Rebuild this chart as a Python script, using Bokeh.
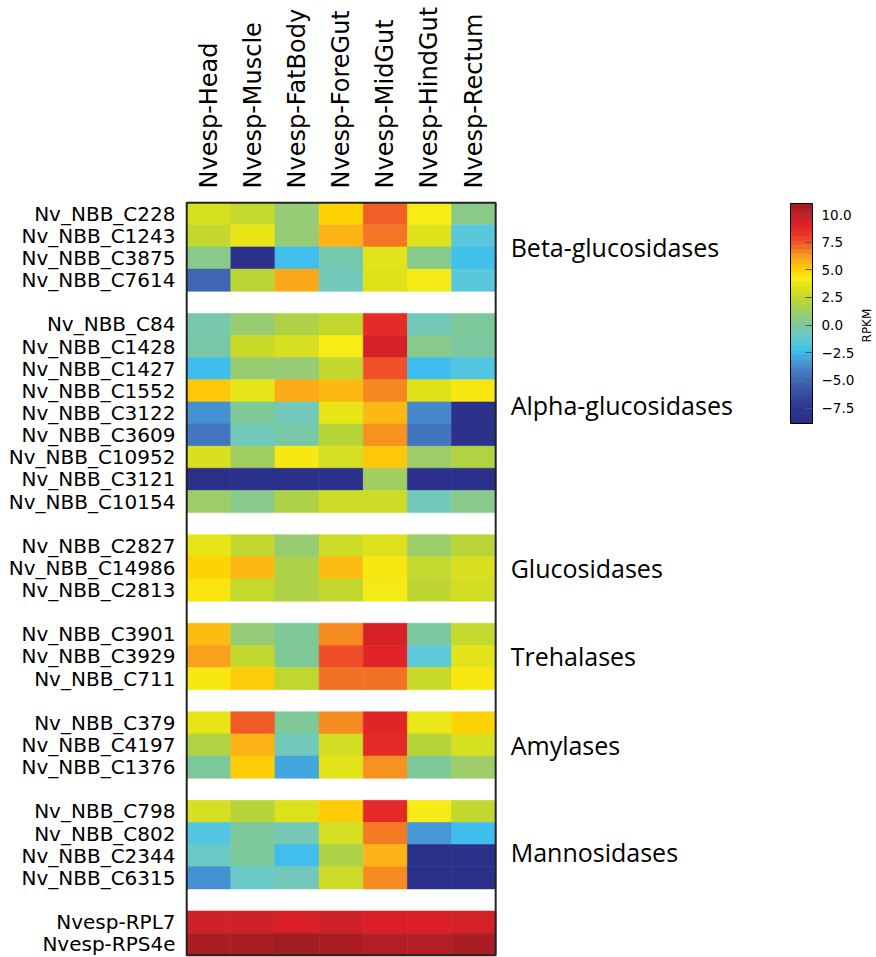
import math
import numpy as np
from bokeh.plotting import figure
from bokeh.models import (LinearColorMapper, ColorBar, FixedTicker, Range1d, LinearAxis,
                          ColumnDataSource, CustomJSTickFormatter)
from bokeh.core.properties import value
from bokeh.transform import transform
from bokeh.embed import file_html
from bokeh.resources import INLINE

# ---- data ------------------------------------------------------------------
tissues = ["Nvesp-Head", "Nvesp-Muscle", "Nvesp-FatBody", "Nvesp-ForeGut",
           "Nvesp-MidGut", "Nvesp-HindGut", "Nvesp-Rectum"]

beta_genes = ["Nv_NBB_C228", "Nv_NBB_C1243", "Nv_NBB_C3875", "Nv_NBB_C7614"]
beta_rpkm = [
    [3.2, 2.6, 0.9, 5.0, 7.4, 4.3, 0.5],
    [2.5, 3.8, 0.9, 5.8, 7.0, 3.5, -1.5],
    [0.4, -8.5, -2.4, -0.5, 3.6, 0.4, -2.3],
    [-5.2, 2.2, 6.1, -0.7, 3.5, 4.2, -1.5],
]

alpha_genes = ["Nv_NBB_C84", "Nv_NBB_C1428", "Nv_NBB_C1427", "Nv_NBB_C1552",
               "Nv_NBB_C3122", "Nv_NBB_C3609", "Nv_NBB_C10952", "Nv_NBB_C3121",
               "Nv_NBB_C10154"]
alpha_rpkm = [
    [-0.4, 1.0, 1.8, 2.5, 8.7, -0.7, 0.0],
    [-0.3, 2.7, 3.2, 4.3, 9.6, 0.4, -0.1],
    [-2.5, 1.0, 0.9, 2.5, 7.7, -2.5, -1.8],
    [5.3, 3.7, 6.0, 5.7, 6.7, 3.5, 4.4],
    [-3.6, 0.1, -0.7, 3.8, 5.7, -3.9, -8.5],
    [-4.5, -0.7, -0.3, 2.1, 6.5, -4.6, -8.5],
    [3.3, 1.3, 4.4, 3.1, 5.3, 1.2, 1.9],
    [-8.7, -8.7, -8.7, -8.7, 1.3, -8.7, -8.7],
    [1.2, 0.4, 1.8, 2.9, 2.9, -0.7, 0.4],
]

gluco_genes = ["Nv_NBB_C2827", "Nv_NBB_C14986", "Nv_NBB_C2813"]
gluco_rpkm = [
    [3.7, 2.5, 1.0, 2.9, 3.5, 1.2, 2.2],
    [5.0, 5.7, 1.8, 5.6, 4.4, 2.6, 3.3],
    [4.5, 2.6, 1.8, 2.5, 4.1, 2.3, 3.0],
]

treh_genes = ["Nv_NBB_C3901", "Nv_NBB_C3929", "Nv_NBB_C711"]
treh_rpkm = [
    [5.6, 0.9, 0.1, 6.6, 9.5, -0.1, 2.6],
    [6.2, 2.5, 0.1, 7.8, 9.1, -1.4, 3.6],
    [4.4, 5.2, 2.4, 7.1, 7.1, 2.7, 4.4],
]

amyl_genes = ["Nv_NBB_C379", "Nv_NBB_C4197", "Nv_NBB_C1376"]
amyl_rpkm = [
    [3.7, 7.5, 0.1, 6.6, 9.0, 3.9, 5.0],
    [1.9, 5.8, -0.7, 3.0, 8.7, 2.1, 3.2],
    [0.0, 5.1, -3.0, 3.6, 6.5, 0.1, 1.2],
]

manno_genes = ["Nv_NBB_C798", "Nv_NBB_C802", "Nv_NBB_C2344", "Nv_NBB_C6315"]
manno_rpkm = [
    [3.2, 2.1, 3.4, 5.1, 8.8, 4.2, 2.5],
    [-1.8, 0.0, -0.6, 3.1, 6.9, -3.4, -2.5],
    [-1.0, 0.0, -2.4, 1.8, 5.8, -8.6, -8.6],
    [-3.6, -1.0, -0.7, 2.8, 6.6, -8.6, -8.6],
]

control_genes = ["Nvesp-RPL7", "Nvesp-RPS4e"]
control_rpkm = [
    [9.8, 9.8, 9.3, 9.8, 9.3, 9.3, 9.6],
    [10.7, 10.7, 11.0, 10.7, 10.6, 10.5, 10.7],
]

group_names = ["Beta-glucosidases", "Alpha-glucosidases", "Glucosidases",
               "Trehalases", "Amylases", "Mannosidases", None]
group_genes = [beta_genes, alpha_genes, gluco_genes, treh_genes,
               amyl_genes, manno_genes, control_genes]
group_rpkm = [beta_rpkm, alpha_rpkm, gluco_rpkm, treh_rpkm,
              amyl_rpkm, manno_rpkm, control_rpkm]

cbar_ticks = [-7.5, -5.0, -2.5, 0.0, 2.5, 5.0, 7.5, 10.0]
cbar_title = "RPKM"
low, high = -8.9, 11.0

# ---- colour map (blue - cyan - green - yellow - red) --------------------------
anchor_vals = [-8.9, -7.5, -6.0, -4.5, -3.5, -2.5, -1.5, -0.8, 0.0, 1.0, 2.0, 2.5,
               3.5, 4.3, 5.0, 5.8, 6.5, 7.5, 8.5, 9.3, 10.0, 11.0]
anchor_cols = ["#2b2f8a", "#2d3790", "#3a55a4", "#4277bf", "#4694d3", "#3ebdee",
               "#5ac8dc", "#70c9bd", "#7dc89b", "#97cc72", "#b4d33c", "#c2d82e",
               "#dfe21a", "#f8ec15", "#fed304", "#fcb515", "#f79420", "#f15a27",
               "#e92f27", "#dc2026", "#c92128", "#a11d22"]


def build_palette(n):
    rgb = np.array([[int(c[i:i + 2], 16) for i in (1, 3, 5)] for c in anchor_cols], float)
    out = []
    for x in np.linspace(low, high, n):
        r, g, b = (np.interp(x, anchor_vals, rgb[:, k]) for k in range(3))
        out.append("#%02x%02x%02x" % (int(round(r)), int(round(g)), int(round(b))))
    return out


cell_mapper = LinearColorMapper(palette=build_palette(256), low=low, high=high)
bar_mapper = LinearColorMapper(palette=build_palette(48), low=low, high=high)

# ---- rows: groups separated by an empty row ---------------------------------
xs, ys, vals = [], [], []
tick_pos, tick_lab = [], {}
group_pos, group_txt = [], []
row = 0
group_shift = [0.0, -0.35, 0.0, 0.0, 0.0, 0.35, 0.0]
for gi, (name, genes, rpkm) in enumerate(zip(group_names, group_genes, group_rpkm)):
    start = row
    for gene, values in zip(genes, rpkm):
        for ci, v in enumerate(values):
            xs.append(ci + 0.5)
            ys.append(row + 0.5)
            vals.append(v)
        tick_pos.append(row + 0.5)
        tick_lab[row + 0.5] = gene
        row += 1
    if name:
        group_pos.append((start + row) / 2.0 + group_shift[gi])
        group_txt.append(name)
    row += 1
n_rows = row - 1
n_cols = len(tissues)

src = ColumnDataSource(dict(x=xs, y=ys, rpkm=vals))

# the frame spans the heatmap plus the free space on its right, where the
# family names and the colour bar live
pad = 0.05                      # keeps the heatmap border inside the frame
col_px = 44.14
frame_w = 876 - 184
x_end = frame_w / col_px - pad

p = figure(width=876, height=957, output_backend="svg", toolbar_location=None,
           x_range=Range1d(-pad, x_end), y_range=Range1d(n_rows + 0.1, -0.1),
           x_axis_location=None, y_axis_location=None,
           min_border_left=184, min_border_right=0, min_border_top=200,
           min_border_bottom=0)
p.grid.visible = False
p.outline_line_color = None
p.background_fill_color = "white"
p.border_fill_color = "white"

p.rect(x="x", y="y", width=1, height=1, source=src,
       fill_color=transform("rpkm", cell_mapper),
       line_color=transform("rpkm", cell_mapper), line_width=0.6)

# border round the heatmap
p.rect(x=n_cols / 2.0, y=n_rows / 2.0, width=n_cols, height=n_rows,
       fill_color=None, line_color="#222222", line_width=2)

label_font = "DejaVu Sans"


def plain_axis(axis):
    axis.axis_line_color = None
    axis.major_tick_line_color = None
    axis.minor_tick_line_color = None
    axis.major_label_text_color = "black"
    return axis


# gene names on the left
left = plain_axis(LinearAxis(ticker=FixedTicker(ticks=tick_pos),
                             major_label_overrides=tick_lab))
left.major_label_text_font = label_font
left.major_label_text_font_size = "20px"
left.major_label_standoff = 3
p.add_layout(left, "left")

# tissues across the top, vertical
top_ticks = [i + 0.5 for i in range(n_cols)]
top = plain_axis(LinearAxis(ticker=FixedTicker(ticks=top_ticks),
                            major_label_overrides={t: n for t, n in zip(top_ticks, tissues)}))
top.major_label_orientation = math.pi / 2
top.major_label_text_font = label_font
top.major_label_text_font_size = "24px"
top.major_label_standoff = 6
p.add_layout(top, "above")

# enzyme family names beside their rows
p.text(x=[n_cols] * len(group_pos), y=group_pos, text=group_txt,
       x_offset=15, text_align="left", text_baseline="middle",
       text_font=value("Open Sans"), text_font_size="25px", text_color="black")

cbar = ColorBar(color_mapper=bar_mapper, width=22, height=220,
                location=(606, 534), padding=0, margin=0,
                ticker=FixedTicker(ticks=cbar_ticks),
                formatter=CustomJSTickFormatter(
                    code="return tick.toFixed(1).replace('-', '\u2212');"),
                major_label_text_font=label_font,
                major_label_text_font_size="13.5px",
                major_label_text_color="black",
                label_standoff=9,
                major_tick_in=7, major_tick_out=0,
                major_tick_line_color="#555555",
                bar_line_color="black", bar_line_width=1,
                background_fill_color=None, border_line_color=None)
p.add_layout(cbar, "center")

# colour bar title, reading upwards
p.text(x=[n_cols], y=[5.55], text=[cbar_title], x_offset=371, angle=math.pi / 2,
       text_align="center", text_baseline="middle",
       text_font=value(label_font), text_font_size="12px", text_color="black")

open("out.html", "w").write(file_html(p, INLINE))
